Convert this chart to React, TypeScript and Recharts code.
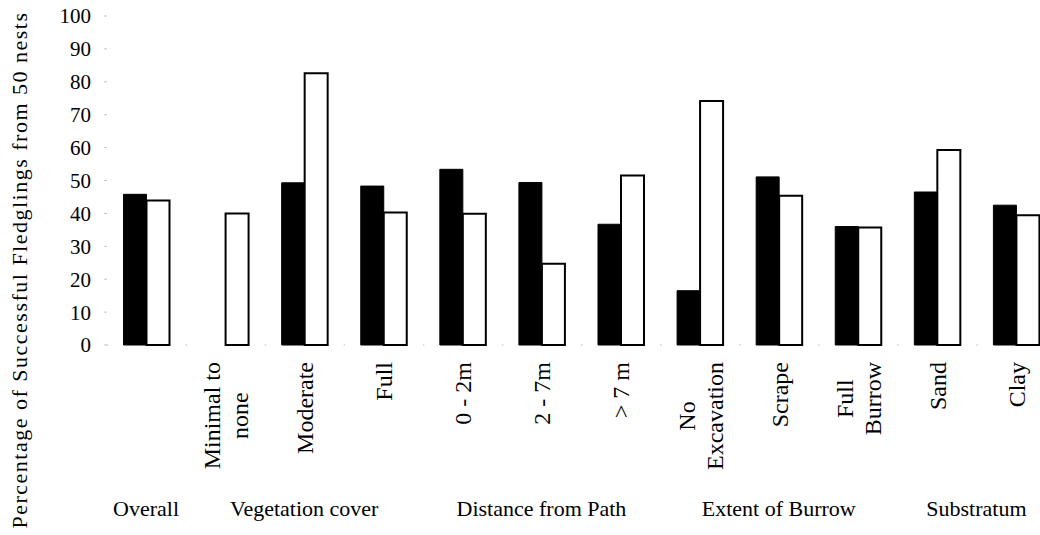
import React from "react";
import { BarChart, Bar, XAxis, YAxis } from "recharts";

// categories along the x axis ("\n" splits a label over two lines)
const categories = [
  "Overall",
  "Minimal to\nnone",
  "Moderate",
  "Full",
  "0 - 2m",
  "2 - 7m",
  "> 7 m",
  "No\nExcavation",
  "Scrape",
  "Full\nBurrow",
  "Sand",
  "Clay",
];
const filledValues = [45.8, 0, 49.3, 48.3, 53.4, 49.4, 36.7, 16.5, 51.1, 36.0, 46.5, 42.5];
const openValues = [43.9, 40.0, 82.6, 40.3, 39.9, 24.7, 51.5, 74.2, 45.4, 35.7, 59.3, 39.4];
const yTicks = [0, 10, 20, 30, 40, 50, 60, 70, 80, 90, 100];

// group headings under the axis and how many categories each one covers
const groupNames = ["Overall", "Vegetation cover", "Distance from Path", "Extent of Burrow", "Substratum"];
const groupSizes = [1, 3, 3, 3, 2];

// categories whose own rotated label is not shown (the group heading names them)
const hiddenTickLabels = ["Overall"];

const yTitle = "Percentage of Successful Fledglings from 50 nests";

const data = categories.map((name, i) => ({
  name,
  filled: filledValues[i],
  open: openValues[i],
}));

const groupStart: Record<number, number> = {};
{
  let s = 0;
  groupSizes.forEach((n, g) => {
    groupStart[s] = g;
    s += n;
  });
}

const FONT = '"Liberation Serif", "Times New Roman", serif';
const CHART_W = 1060;
const Y_AXIS_W = 106.5;
const RIGHT = 4.5;
const BAND = (CHART_W - Y_AXIS_W - RIGHT) / categories.length;

let ctx: CanvasRenderingContext2D | null = null;
function textWidth(s: string, size: number) {
  if (!ctx) ctx = document.createElement("canvas").getContext("2d");
  if (!ctx) return s.length * size * 0.45;
  ctx.font = `${size}px "Liberation Serif"`;
  return ctx.measureText(s).width;
}

const CategoryTick = (props: any) => {
  const { x, y, payload, index } = props;
  const name = String(payload.value);
  const lines = hiddenTickLabels.includes(name) ? [] : name.split("\n");
  const fs = 24;
  const lineGap = 28;
  const len = lines.length ? Math.max(...lines.map((l) => textWidth(l, fs))) : 0;
  const g = groupStart[index];
  return (
    <g>
      <g transform={`translate(${x},${y}) rotate(-90)`}>
        {lines.map((l, i) => (
          <text
            key={i}
            x={-len / 2}
            y={0.33 * fs + 1 + (i - (lines.length - 1) / 2) * lineGap}
            textAnchor="middle"
            fontSize={fs}
            fontFamily={FONT}
            style={{ fontFamily: FONT }}
            fill="#000"
          >
            {l}
          </text>
        ))}
      </g>
      {g !== undefined && (
        <text
          x={x + ((groupSizes[g] - 1) / 2) * BAND}
          y={y + 154}
          textAnchor="middle"
          fontSize={22}
          fontFamily={FONT}
          style={{ fontFamily: FONT }}
          fill="#000"
        >
          {groupNames[g]}
        </text>
      )}
    </g>
  );
};

const YTitle = () => (
  <text
    transform="translate(27,270) rotate(-90)"
    textAnchor="middle"
    fontSize={22}
    fontFamily={FONT}
    style={{ fontFamily: FONT }}
    letterSpacing={1.5}
    fill="#000"
  >
    {yTitle}
  </text>
);

export default function App() {
  return (
    <div
      style={{
        position: "fixed",
        left: 0,
        top: 0,
        width: 1040,
        height: 535,
        overflow: "hidden",
        background: "#fff",
      }}
    >
      <BarChart
        width={CHART_W}
        height={535}
        data={data}
        margin={{ top: 16, right: RIGHT, bottom: 0, left: 0 }}
        barGap={0}
        barSize={23}
      >
        <XAxis
          dataKey="name"
          interval={0}
          height={190}
          tickLine={false}
          tickSize={0}
          tickMargin={17}
          axisLine={{ stroke: "#bbb", strokeDasharray: "1.5 77.58" }}
          tick={<CategoryTick />}
        />
        <YAxis
          width={Y_AXIS_W}
          domain={[0, 100]}
          ticks={yTicks}
          interval={0}
          axisLine={false}
          tickLine={{ stroke: "#aaa" }}
          tickSize={2}
          tickMargin={13.5}
          tick={{ fill: "#000", fontSize: 21, fontFamily: FONT, style: { fontFamily: FONT } }}
          label={{ content: () => <YTitle /> }}
        />
        <Bar dataKey="filled" fill="#000" stroke="#000" strokeWidth={1} isAnimationActive={false} />
        <Bar dataKey="open" fill="#fff" stroke="#000" strokeWidth={2} isAnimationActive={false} />
      </BarChart>
    </div>
  );
}
